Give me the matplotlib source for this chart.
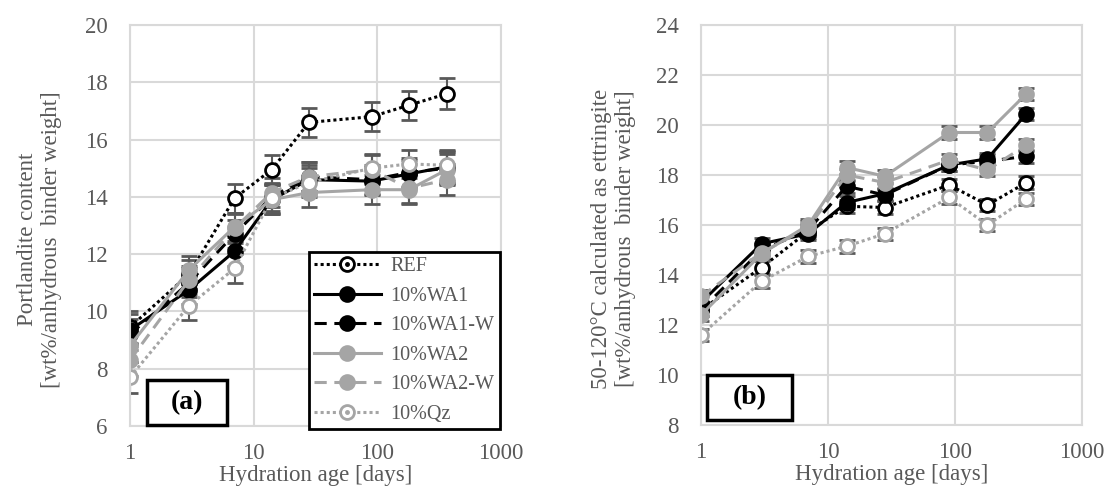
import matplotlib
matplotlib.use("Agg")
import matplotlib.pyplot as plt
from matplotlib.lines import Line2D
from matplotlib.patches import Rectangle
from matplotlib.legend_handler import HandlerTuple
import numpy as np

plt.rcParams['font.family'] = ['Liberation Serif', 'DejaVu Serif']

days = [1, 3, 7, 14, 28, 90, 180, 365]
series_names = ["REF", "10%WA1", "10%WA1-W", "10%WA2", "10%WA2-W", "10%Qz"]

# Panel (a): Portlandite content
a_ref = [9.45, 11.3, 13.95, 14.95, 16.6, 16.8, 17.2, 17.6]
a_wa1 = [9.35, 10.75, 12.1, 13.9, 14.6, 14.55, 14.8, 15.05]
a_wa1w = [9.2, 11.0, 12.7, 14.0, 14.7, 14.6, 14.85, 15.0]
a_wa2 = [8.8, 11.45, 12.95, 13.9, 14.15, 14.25, 14.25, 14.95]
a_wa2w = [8.3, 11.1, 12.9, 14.15, 14.7, 14.95, 14.3, 14.6]
a_qz = [7.7, 10.2, 11.5, 13.95, 14.5, 15.0, 15.15, 15.1]
a_err = [0.55, 0.5, 0.5, 0.5, 0.5, 0.5, 0.5, 0.55]

# Panel (b): 50-120°C calculated as ettringite
b_ref = [12.6, 14.3, 15.75, 16.75, 16.7, 17.6, 16.8, 17.7]
b_wa1 = [12.9, 15.25, 15.65, 16.9, 17.25, 18.4, 18.65, 20.45]
b_wa1w = [12.6, 15.0, 15.8, 17.55, 17.2, 18.4, 18.55, 18.75]
b_wa2 = [12.4, 14.85, 16.0, 18.3, 17.95, 19.7, 19.7, 21.25]
b_wa2w = [13.15, 14.9, 15.9, 18.0, 17.7, 18.6, 18.2, 19.2]
b_qz = [11.6, 13.75, 14.75, 15.15, 15.65, 17.1, 16.0, 17.05]
b_err = [0.25, 0.25, 0.25, 0.25, 0.25, 0.25, 0.25, 0.25]

BLACK = "#000000"
GREY = "#a5a5a5"
ERRC = "#595959"
TICKC = "#595959"
GRIDC = "#d9d9d9"

DOT = (0, (1, 1))
DASH = (0, (4, 2.5))
styles = [
    dict(color=BLACK, ls=DOT, mfc="white", mec=BLACK),
    dict(color=BLACK, ls="-", mfc=BLACK, mec=BLACK),
    dict(color=BLACK, ls=DASH, mfc=BLACK, mec=BLACK),
    dict(color=GREY, ls="-", mfc=GREY, mec=GREY),
    dict(color=GREY, ls=DASH, mfc=GREY, mec=GREY),
    dict(color=GREY, ls=DOT, mfc="white", mec=GREY),
]

fig = plt.figure(figsize=(11.1, 5.01), dpi=100)
axA = fig.add_axes([130 / 1110, 1 - 426 / 501, 371 / 1110, 401 / 501])
axB = fig.add_axes([701 / 1110, 1 - 425 / 501, 381 / 1110, 400 / 501])


def draw(ax, data, err, ylim, yticks, ylabel, tag, tagbox, labx):
    ax.set_xscale("log")
    ax.set_xlim(1, 1000)
    ax.set_ylim(*ylim)
    ax.set_yticks(yticks)
    ax.set_xticks([1, 10, 100, 1000])
    ax.set_xticklabels(["1", "10", "100", "1000"])
    ax.minorticks_off()
    ax.grid(True, color=GRIDC, lw=1.5)
    ax.set_axisbelow(True)
    for s in ax.spines.values():
        s.set_color(GRIDC)
        s.set_linewidth(1.5)
    ax.tick_params(length=0, labelsize=16.5, colors=TICKC)
    ax.tick_params(axis="y", pad=16)
    ax.tick_params(axis="x", pad=12)
    for vals, st in zip(data, styles):
        ax.errorbar(days, vals, yerr=err, color=st["color"], ls=st["ls"],
                    lw=2.2, marker="o", ms=10, mfc=st["mfc"],
                    mec=st["mec"], mew=2, ecolor=ERRC, elinewidth=1.5,
                    capsize=6, capthick=1.5)
    ax.set_ylabel(ylabel, fontsize=16.5, color=TICKC, linespacing=1.2)
    ax.yaxis.set_label_coords(labx, 0.466)
    ax.set_xlabel("Hydration age [days]", fontsize=16.5, color=TICKC, labelpad=1)
    ax.add_patch(Rectangle((tagbox[0], tagbox[1]), tagbox[2], tagbox[3],
                           transform=ax.transAxes, fc="white", ec=BLACK,
                           lw=2.5, zorder=20, clip_on=False))
    ax.text(tagbox[0] + tagbox[2] / 2, tagbox[1] + tagbox[3] / 2, tag,
            transform=ax.transAxes, fontsize=20, fontweight="bold",
            ha="center", va="center", color=BLACK, zorder=21)


draw(axA, [a_ref, a_wa1, a_wa1w, a_wa2, a_wa2w, a_qz], a_err, (6, 20),
     [6, 8, 10, 12, 14, 16, 18, 20],
     "Portlandite content\n[wt%/anhydrous  binder weight]", "(a)",
     (0.046, 0.003, 0.216, 0.112), -0.183)
draw(axB, [b_ref, b_wa1, b_wa1w, b_wa2, b_wa2w, b_qz], b_err, (8, 24),
     [8, 10, 12, 14, 16, 18, 20, 22, 24],
     "50-120°C calculated as ettringite\n[wt%/anhydrous  binder weight]", "(b)",
     (0.016, 0.0125, 0.223, 0.1125), -0.170)

handles = []
for st in styles:
    h1 = Line2D([], [], color=st["color"], ls=st["ls"], lw=2.2, marker="o",
                ms=10, mfc=st["mfc"], mec=st["mec"], mew=2)
    if st["mfc"] == "white":
        h2 = Line2D([], [], ls="none", marker="o", ms=2.5, color=st["mec"])
        handles.append((h1, h2))
    else:
        handles.append(h1)
leg = axA.legend(handles, series_names,
                 handler_map={tuple: HandlerTuple(ndivide=1, pad=0)},
                 loc="upper left", bbox_to_anchor=(0.4825, 0.434),
                 borderaxespad=0, fontsize=14.5, frameon=True, fancybox=False,
                 edgecolor=BLACK, framealpha=1, handlelength=3.3,
                 labelspacing=0.52, borderpad=0.25, handletextpad=0.5)
leg.get_frame().set_linewidth(2)
leg.set_zorder(30)
for t in leg.get_texts():
    t.set_color(TICKC)

fig.savefig("out.png", dpi=100)
